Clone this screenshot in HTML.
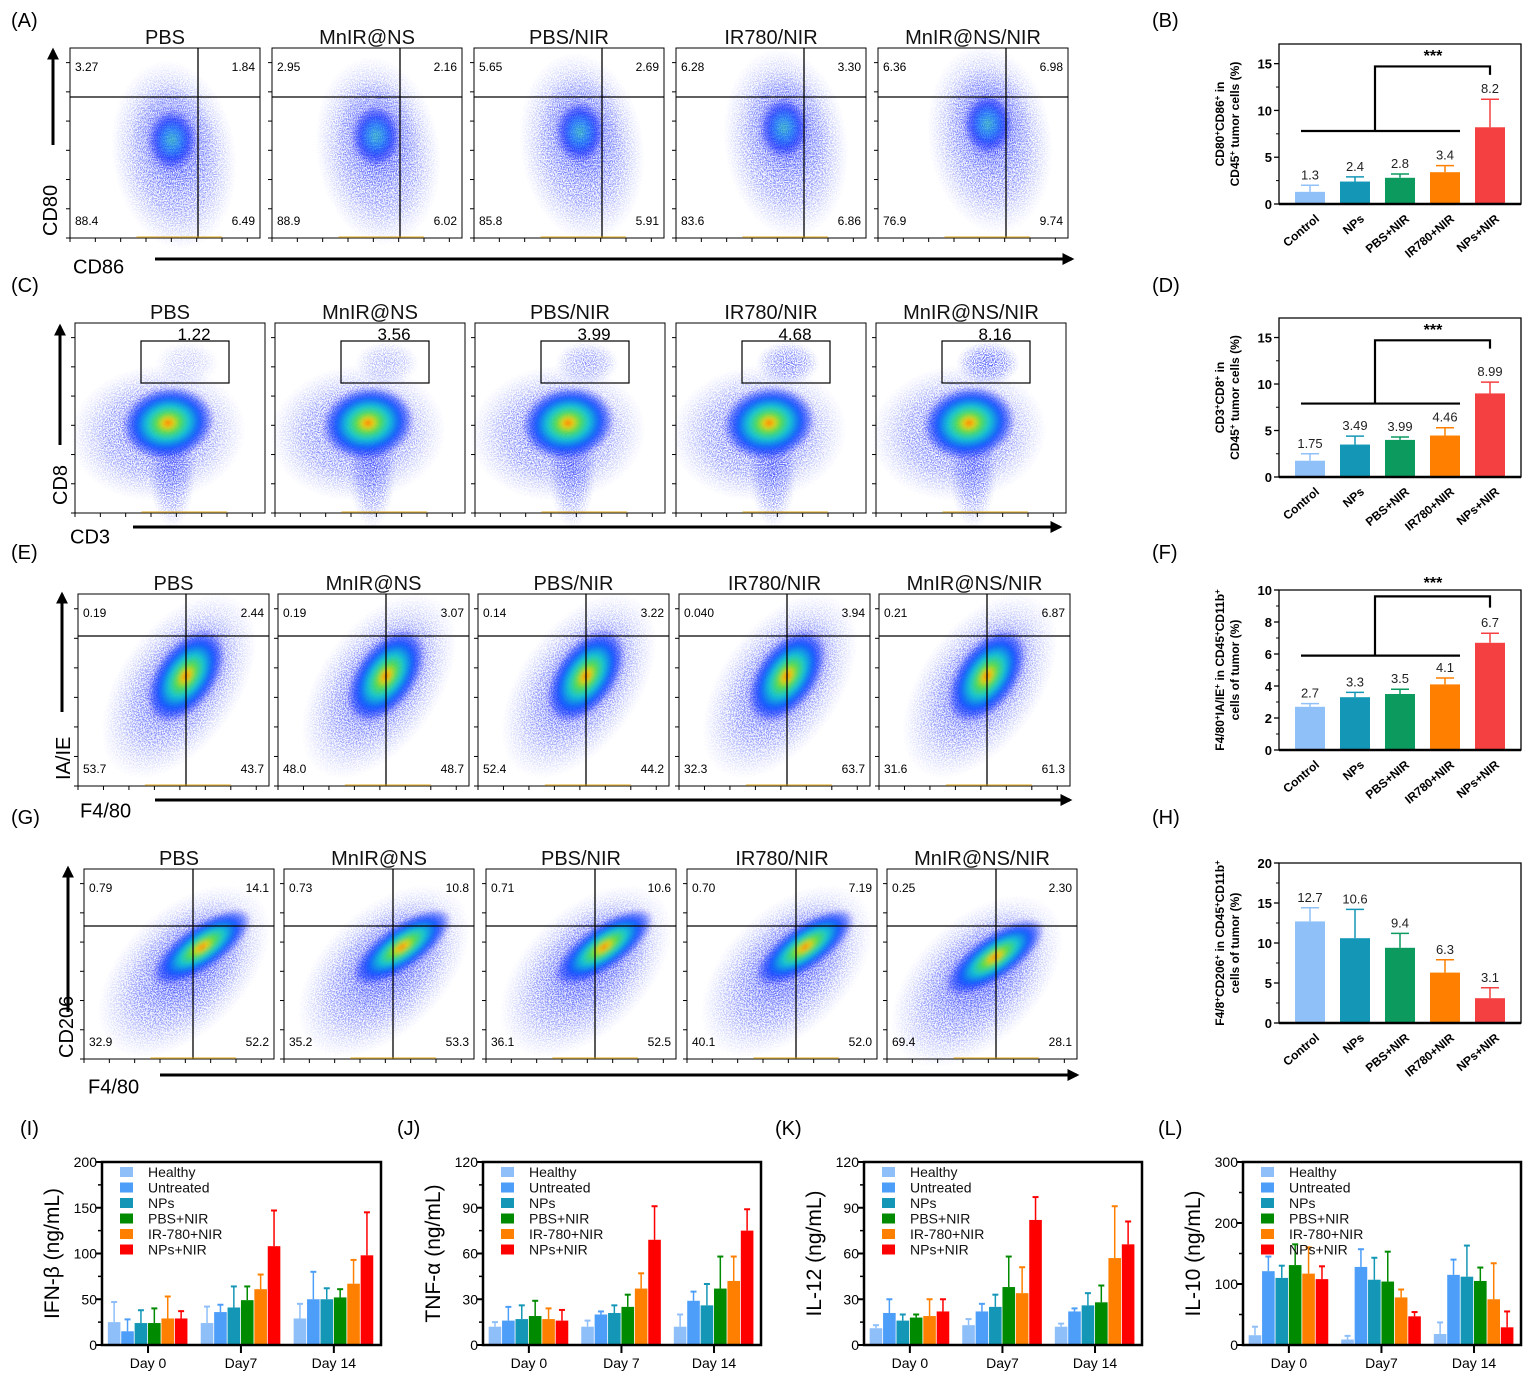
<!DOCTYPE html>
<html><head><meta charset="utf-8"><style>
html,body{margin:0;padding:0;background:#fff;}
svg{display:block;font-family:"Liberation Sans",Arial,sans-serif;}
</style></head><body>
<svg id="fig" width="1538" height="1386" viewBox="0 0 1538 1386" xmlns="http://www.w3.org/2000/svg">
<defs>
<radialGradient id="heat" cx="50%" cy="50%" r="50%">
<stop offset="0%" stop-color="#ff2a00"/>
<stop offset="10%" stop-color="#ffd000"/>
<stop offset="25%" stop-color="#50e040"/>
<stop offset="45%" stop-color="#10c8d0"/>
<stop offset="70%" stop-color="#1050ff"/>
<stop offset="100%" stop-color="#0000ff" stop-opacity="0"/>
</radialGradient>
<radialGradient id="heatlow" cx="50%" cy="50%" r="50%">
<stop offset="0%" stop-color="#30c8b0"/>
<stop offset="30%" stop-color="#1088f0"/>
<stop offset="65%" stop-color="#1030ff"/>
<stop offset="100%" stop-color="#0000ff" stop-opacity="0"/>
</radialGradient>
<radialGradient id="halo" cx="50%" cy="50%" r="50%">
<stop offset="0%" stop-color="#2030ff" stop-opacity="0.95"/>
<stop offset="60%" stop-color="#3040ff" stop-opacity="0.6"/>
<stop offset="100%" stop-color="#6070ff" stop-opacity="0"/>
</radialGradient>
<filter id="blur" x="-20%" y="-20%" width="140%" height="140%"><feGaussianBlur stdDeviation="2"/></filter>
<filter id="speckle" x="-10%" y="-10%" width="120%" height="120%">
<feTurbulence type="fractalNoise" baseFrequency="0.9" numOctaves="1" seed="3" result="n"/>
<feColorMatrix in="n" type="matrix" values="0 0 0 0 0  0 0 0 0 0  0 0 0 0 0  0 0 0 -6 3.4" result="m"/>
<feComposite in="SourceGraphic" in2="m" operator="in"/>
</filter>
<marker id="arr" viewBox="0 0 10 10" refX="8" refY="5" markerWidth="4" markerHeight="4" orient="auto"><path d="M0,0 L10,5 L0,10 z" fill="#000"/></marker>
</defs>
</svg>
<script>
// ---------- data: right-column bar charts ----------
const groupCats = ["Control","NPs","PBS+NIR","IR780+NIR","NPs+NIR"];
const bVals = [1.3,2.4,2.8,3.4,8.2];
const bErr  = [2.0,2.9,3.2,4.1,11.2];
const bLabels = ["1.3","2.4","2.8","3.4","8.2"];
const dVals = [1.75,3.49,3.99,4.46,8.99];
const dErr  = [2.5,4.4,4.3,5.3,10.2];
const dLabels = ["1.75","3.49","3.99","4.46","8.99"];
const fVals = [2.7,3.3,3.5,4.1,6.7];
const fErr  = [2.9,3.6,3.8,4.5,7.3];
const fLabels = ["2.7","3.3","3.5","4.1","6.7"];
const hVals = [12.7,10.6,9.4,6.3,3.1];
const hErr  = [14.4,14.2,11.2,7.9,4.4];
const hLabels = ["12.7","10.6","9.4","6.3","3.1"];
const ticks15 = [0,5,10,15];
const ticks10 = [0,2,4,6,8,10];
const ticks20 = [0,5,10,15,20];
// ---------- data: cytokine charts ----------
const series = ["Healthy","Untreated","NPs","PBS+NIR","IR-780+NIR","NPs+NIR"];
const iDays = ["Day 0","Day7","Day 14"];
const jDays = ["Day 0","Day 7","Day 14"];
const iVals = [[25,15,24,24,29,29],[24,36,41,49,61,108],[29,50,50,52,67,98]];
const iErr  = [[47,28,38,40,53,37],[42,44,64,64,77,147],[45,80,62,61,93,145]];
const jVals = [[12,16,17,19,17,16],[12,20,21,25,37,69],[12,29,26,37,42,75]];
const jErr  = [[15,25,26,29,24,23],[16,22,26,33,47,91],[20,35,40,58,58,89]];
const kVals = [[11,21,16,18,19,22],[13,22,25,38,34,82],[12,22,26,28,57,66]];
const kErr  = [[13,30,20,20,30,30],[17,27,33,58,51,97],[14,24,34,39,91,81]];
const lVals = [[16,121,110,131,117,108],[9,128,107,104,78,47],[18,115,112,105,75,29]];
const lErr  = [[30,145,130,165,160,129],[15,157,143,153,91,54],[37,140,163,127,134,55]];
const ticks200 = [0,50,100,150,200];
const ticks120 = [0,30,60,90,120];
const ticks300 = [0,100,200,300];
// ---------- flow cytometry labels ----------
const flowTitles = ["PBS","MnIR@NS","PBS/NIR","IR780/NIR","MnIR@NS/NIR"];
const aQuad = [["3.27","1.84","88.4","6.49"],["2.95","2.16","88.9","6.02"],["5.65","2.69","85.8","5.91"],["6.28","3.30","83.6","6.86"],["6.36","6.98","76.9","9.74"]];
const cGate = ["1.22","3.56","3.99","4.68","8.16"];
const eQuad = [["0.19","2.44","53.7","43.7"],["0.19","3.07","48.0","48.7"],["0.14","3.22","52.4","44.2"],["0.040","3.94","32.3","63.7"],["0.21","6.87","31.6","61.3"]];
const gQuad = [["0.79","14.1","32.9","52.2"],["0.73","10.8","35.2","53.3"],["0.71","10.6","36.1","52.5"],["0.70","7.19","40.1","52.0"],["0.25","2.30","69.4","28.1"]];

const NS="http://www.w3.org/2000/svg";
const svg=document.getElementById('fig');
function mk(tag,attrs,parent){const e=document.createElementNS(NS,tag);for(const k in attrs)e.setAttribute(k,attrs[k]);(parent||svg).appendChild(e);return e;}
function txt(x,y,s,attrs,parent){const t=mk('text',Object.assign({x:x,y:y},attrs||{}),parent);t.textContent=s;return t;}

const letters=[["(A)",11,27],["(B)",1152,27],["(C)",11,292],["(D)",1152,292],["(E)",11,559],["(F)",1152,559],["(G)",11,824],["(H)",1152,824],["(I)",20,1135],["(J)",397,1135],["(K)",775,1135],["(L)",1158,1135]];
letters.forEach(l=>{const t=txt(l[1],l[2],l[0],{'font-size':20,'fill':'#000'});

});

// ---------- flow panels ----------
function blob(g,cx,cy,rx,ry,rot,grad,op,filt){const e=mk('ellipse',{cx:cx,cy:cy,rx:rx,ry:ry,fill:'url(#'+grad+')',opacity:op,transform:'rotate('+rot+' '+cx+' '+cy+')',filter:'url(#'+(filt||'blur')+')'},g);return e;}
function flowFrame(g,x,y,w,h){
  mk('rect',{x:x,y:y,width:w,height:h,fill:'none',stroke:'#000','stroke-width':1},g);
  for(let i=0;i<7;i++){mk('line',{x1:x-4,x2:x,y1:y+h-i*h/6.5,y2:y+h-i*h/6.5,stroke:'#000','stroke-width':1},g);}
  for(let i=0;i<8;i++){mk('line',{x1:x+i*w/7.5,x2:x+i*w/7.5,y1:y+h,y2:y+h+4,stroke:'#000','stroke-width':1},g);}
  mk('line',{x1:x+w*0.35,x2:x+w*0.8,y1:y+h-1,y2:y+h-1,stroke:'#e0a000','stroke-width':1.5,opacity:0.6},g);
}
function flowRow(row,xs,y,w,h,opts){
  xs.forEach((x,i)=>{
    const g=mk('g',{});
    
    
    const t=txt(x+w/2,y-4,flowTitles[i],{'font-size':20,'text-anchor':'middle','fill':'#111'},g);
    
    
    opts.draw(g,x,y,w,h,i);
    flowFrame(g,x,y,w,h);
  });
}
function quadText(g,x,y,w,h,q,fs){
  txt(x+5,y+23,q[0],{'font-size':fs},g);
  txt(x+w-5,y+23,q[1],{'font-size':fs,'text-anchor':'end'},g);
  txt(x+5,y+h-13,q[2],{'font-size':fs},g);
  txt(x+w-5,y+h-13,q[3],{'font-size':fs,'text-anchor':'end'},g);
}
// Row A
flowRow('a',[70,272,474,676,878],48,190,190,{draw:(g,x,y,w,h,i)=>{
  const cx=x+104+i*2, cy=y+92-i*4;
  blob(g,cx,cy+15,62,95,-8,'halo',0.9,'speckle');
  blob(g,cx,cy,42,58,-8,'halo',0.6,'speckle');
  blob(g,cx-2,cy,24,30,0,'heatlow',0.7);
  mk('line',{x1:x+128,x2:x+128,y1:y,y2:y+h,stroke:'#000','stroke-width':1.3},g);
  mk('line',{x1:x,x2:x+w,y1:y+49,y2:y+49,stroke:'#000','stroke-width':1.3},g);
  quadText(g,x,y,w,h,aQuad[i],12);
}});
// Row C
flowRow('c',[75,275,475,676,876],323,190,190,{draw:(g,x,y,w,h,i)=>{
  const cx=x+93, cy=y+100;
  blob(g,cx-10,cy+10,88,68,-5,'halo',0.9,'speckle');
  blob(g,cx+4,cy+45,24,60,0,'halo',0.8,'speckle');
  blob(g,cx,cy,46,36,-10,'heat',0.95);
  blob(g,x+112,y+40,32,22,0,'halo',0.3+i*0.15,'speckle');
  mk('rect',{x:x+66,y:y+18,width:88,height:42,fill:'none',stroke:'#000','stroke-width':1.2},g);
  txt(x+119,y+17,cGate[i],{'font-size':17,'text-anchor':'middle'},g);
}});
// Row E
flowRow('e',[78,278,478,679,879],594,191,192,{draw:(g,x,y,w,h,i)=>{
  const cx=x+106, cy=y+84;
  blob(g,cx-5,cy+8,60,105,35,'halo',0.9,'speckle');
  blob(g,cx,cy,40,72,35,'halo',0.6,'speckle');
  blob(g,cx+2,cy-2,30,52,35,'heat',0.95);
  mk('line',{x1:x+108,x2:x+108,y1:y,y2:y+h,stroke:'#000','stroke-width':1.3},g);
  mk('line',{x1:x,x2:x+w,y1:y+42,y2:y+42,stroke:'#000','stroke-width':1.3},g);
  quadText(g,x,y,w,h,eQuad[i],12);
}});
// Row G
flowRow('g',[84,284,486,687,887],869,190,190,{draw:(g,x,y,w,h,i)=>{
  const cx=x+108-(i==4?10:0), cy=y+90+(i==4?10:0);
  blob(g,cx-8,cy+12,62,105,45,'halo',0.9,'speckle');
  blob(g,cx,cy,42,74,45,'halo',0.6,'speckle');
  blob(g,cx+10,cy-12,22,58,55,'heat',0.95);
  mk('line',{x1:x+109,x2:x+109,y1:y,y2:y+h,stroke:'#000','stroke-width':1.3},g);
  mk('line',{x1:x,x2:x+w,y1:y+57,y2:y+57,stroke:'#000','stroke-width':1.3},g);
  quadText(g,x,y,w,h,gQuad[i],12);
}});
const arrows=[
 {vx:53,vy1:145,vy2:50,yl:"CD80",ylx:57,yly:236,hx1:155,hx2:1072,hy:259,xl:"CD86",xlx:73,xly:268},
 {vx:60,vy1:445,vy2:326,yl:"CD8",ylx:67,yly:505,hx1:133,hx2:1060,hy:527,xl:"CD3",xlx:70,xly:538},
 {vx:62,vy1:712,vy2:594,yl:"IA/IE",ylx:70,yly:780,hx1:155,hx2:1070,hy:800,xl:"F4/80",xlx:80,xly:812},
 {vx:68,vy1:1012,vy2:868,yl:"CD206",ylx:73,yly:1058,hx1:160,hx2:1077,hy:1075,xl:"F4/80",xlx:88,xly:1088}];
arrows.forEach((a,i)=>{
  const v=mk('line',{x1:a.vx,x2:a.vx,y1:a.vy1,y2:a.vy2,stroke:'#000','stroke-width':3,'marker-end':'url(#arr)'});
  
  
  const h=mk('line',{x1:a.hx1,x2:a.hx2,y1:a.hy,y2:a.hy,stroke:'#000','stroke-width':3,'marker-end':'url(#arr)'});
  
  
  const yt=txt(a.ylx,a.yly,a.yl,{'font-size':20,transform:'rotate(-90 '+a.ylx+' '+a.yly+')'});
  
  
  const xt=txt(a.xlx,a.xly,a.xl,{'font-size':20,'dominant-baseline':'middle'});
  
  
});

// ---------- right bar charts ----------
const gColors=["#90c0f8","#1497b6","#0c9a5f","#ff8000","#f44040"];
function groupChart(name,x0,y0,x1,y1,ymax,ticks,vals,errs,labels,ytitle,bracket){
  const g=mk('g',{});
  
  
  const ys=v=>y1-(v/ymax)*(y1-y0);
  const xs=i=>x0+31+i*45;
  vals.forEach((v,i)=>{
    const e=mk('line',{x1:xs(i),x2:xs(i),y1:ys(v),y2:ys(errs[i]),stroke:gColors[i],'stroke-width':1.5},g);
    
    
    mk('line',{x1:xs(i)-9,x2:xs(i)+9,y1:ys(errs[i]),y2:ys(errs[i]),stroke:gColors[i],'stroke-width':1.5},g);
    const r=mk('rect',{x:xs(i)-15,y:ys(v),width:30,height:y1-ys(v),fill:gColors[i]},g);
    
    
    txt(xs(i),ys(errs[i])-6,labels[i],{'font-size':13,'text-anchor':'middle','fill':'#222'},g);
    const c=txt(xs(i)+10,y1+16,groupCats[i],{'font-size':12,'font-weight':'bold','text-anchor':'end',transform:'rotate(-40 '+(xs(i)+10)+' '+(y1+16)+')'},g);
    
    
  });
  mk('path',{d:'M'+x0+' '+y0+' H'+x1+' V'+y1+' H'+x0+' Z',fill:'none',stroke:'#000','stroke-width':1.3},g);
  mk('line',{x1:x0,x2:x1,y1:y1,y2:y1,stroke:'#000','stroke-width':2.5},g);
  ticks.forEach(t=>{
    mk('line',{x1:x0-5,x2:x0,y1:ys(t),y2:ys(t),stroke:'#000','stroke-width':1.3},g);
    txt(x0-7,ys(t)+5,String(t),{'font-size':13,'font-weight':'bold','text-anchor':'end'},g);
  });
  for(let k=0;k<ticks.length-1;k++){const m=(ticks[k]+ticks[k+1])/2;mk('line',{x1:x0-3,x2:x0,y1:ys(m),y2:ys(m),stroke:'#000'},g);}
  if(bracket){
    const [low,high,drop,star]=bracket;
    mk('line',{x1:x0+22,x2:xs(3)+15,y1:ys(low),y2:ys(low),stroke:'#000','stroke-width':2.2},g);
    mk('path',{d:'M'+(x0+96)+' '+ys(low)+' V'+ys(high)+' H'+xs(4)+' V'+ys(drop),fill:'none',stroke:'#000','stroke-width':2.2},g);
    txt(x0+154,ys(star)+3,"***",{'font-size':16,'font-weight':'bold','text-anchor':'middle'},g);
  }
  const tx=x0-52, ty=(y0+y1)/2;
  const yt=mk('text',{x:tx,y:ty,'font-size':12,'font-weight':'bold','text-anchor':'middle',transform:'rotate(-90 '+tx+' '+ty+')'},g);
  
  
  ytitle.forEach((ln,k)=>{const s=document.createElementNS(NS,'tspan');s.setAttribute('x',tx);s.setAttribute('dy',k==0?(ytitle.length>1?-3:4):15);s.innerHTML=ln;yt.appendChild(s);});
}
const sup=s=>'<tspan baseline-shift="super" font-size="8">'+s+'</tspan>';
groupChart('chart-b',1279,44,1521,204,17.1,ticks15,bVals,bErr,bLabels,['CD80'+sup('+')+'CD86'+sup('+')+' in','CD45'+sup('+')+' tumor cells (%)'],[7.8,14.7,13.8,15.6]);
groupChart('chart-d',1279,318,1521,477,17.1,ticks15,dVals,dErr,dLabels,['CD3'+sup('+')+'CD8'+sup('+')+' in','CD45'+sup('+')+' tumor cells (%)'],[7.9,14.7,13.8,15.6]);
groupChart('chart-f',1279,590,1521,750,10,ticks10,fVals,fErr,fLabels,['F4/80'+sup('+')+'IA/IE'+sup('+')+' in CD45'+sup('+')+'CD11b'+sup('+'),'cells of tumor (%)'],[5.9,9.6,8.9,10.3]);
groupChart('chart-h',1279,863,1521,1023,20,ticks20,hVals,hErr,hLabels,['F4/8'+sup('+')+'CD206'+sup('+')+' in CD45'+sup('+')+'CD11b'+sup('+'),'cells of tumor (%)'],null);

// ---------- cytokine charts ----------
const sColors=["#8fbff8","#4d9ef8","#1497b6","#008a00","#ff8000","#ff0000"];
function cytoChart(name,x0,y0,x1,y1,ymax,ticks,vals,errs,days,ytitle){
  const g=mk('g',{});
  
  
  const ys=v=>y1-(v/ymax)*(y1-y0);
  const W=x1-x0, bw=12.6, gap=0.8;
  const gc=d=>x0+W*(0.165+d*0.333);
  vals.forEach((grp,d)=>{
    grp.forEach((v,s)=>{
      const bx=gc(d)-3*(bw+gap)+s*(bw+gap);
      const cx=bx+bw/2;
      const e=mk('line',{x1:cx,x2:cx,y1:ys(v),y2:ys(errs[d][s]),stroke:sColors[s],'stroke-width':1.5},g);
      
      
      mk('line',{x1:cx-3,x2:cx+3,y1:ys(errs[d][s]),y2:ys(errs[d][s]),stroke:sColors[s],'stroke-width':2},g);
      const r=mk('rect',{x:bx,y:ys(v),width:bw,height:y1-ys(v),fill:sColors[s]},g);
      
      
    });
    mk('line',{x1:gc(d),x2:gc(d),y1:y1,y2:y1+8,stroke:'#000','stroke-width':2},g);
    const t=txt(gc(d),y1+23,days[d],{'font-size':14,'text-anchor':'middle'},g);
    
    
  });
  series.forEach((s,k)=>{
    const ly=y0+11+k*15.5;
    const sw=mk('rect',{x:x0+18,y:ly-6,width:13,height:10,fill:sColors[k]},g);
    
    
    const lt=txt(x0+46,ly+4,s,{'font-size':14,'fill':'#111'},g);
    
    
  });
  mk('path',{d:'M'+x0+' '+y0+' H'+x1+' V'+y1+' H'+x0+' Z',fill:'none',stroke:'#000','stroke-width':2.5},g);
  ticks.forEach(t=>{
    mk('line',{x1:x0-6,x2:x0,y1:ys(t),y2:ys(t),stroke:'#000','stroke-width':2},g);
    txt(x0-5,ys(t)+5,String(t),{'font-size':14,'text-anchor':'end'},g);
  });
  for(let k=0;k<ticks.length-1;k++){const m=(ticks[k]+ticks[k+1])/2;mk('line',{x1:x0-4,x2:x0,y1:ys(m),y2:ys(m),stroke:'#000','stroke-width':1.5},g);}
  const tx=x0-43, ty=(y0+y1)/2;
  const yt=txt(tx,ty,ytitle,{'font-size':21,'text-anchor':'middle',transform:'rotate(-90 '+tx+' '+ty+')'},g);
  
  
}
cytoChart('chart-i-ifn-beta',102,1162,381,1345,200,ticks200,iVals,iErr,iDays,'IFN-β (ng/mL)');
cytoChart('chart-j-tnf-alpha',483,1162,761,1345,120,ticks120,jVals,jErr,jDays,'TNF-α (ng/mL)');
cytoChart('chart-k-il12',864,1162,1142,1345,120,ticks120,kVals,kErr,iDays,'IL-12 (ng/mL)');
cytoChart('chart-l-il10',1243,1162,1521,1345,300,ticks300,lVals,lErr,iDays,'IL-10 (ng/mL)');
</script>
</body></html>
